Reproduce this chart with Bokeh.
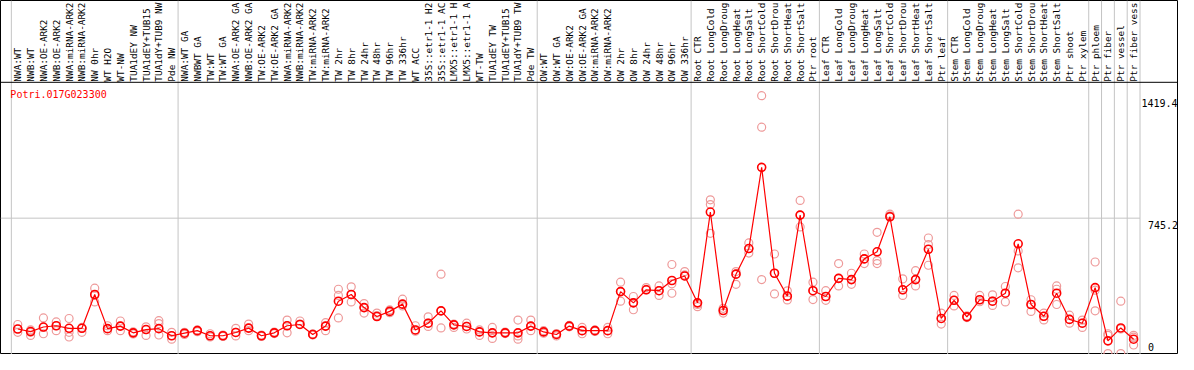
import numpy as np
from bokeh.plotting import figure
from bokeh.models import Range1d, Span
from bokeh.core.properties import value
from bokeh.embed import file_html
from bokeh.resources import INLINE

# ---------------- data ----------------
labels = [
    "NWA:WT", "NWB:WT", "NWA:OE-ARK2", "NWB:OE-ARK2", "NWA:miRNA-ARK2", "NWB:miRNA-ARK2",
    "NW 0hr", "WT H2O", "WT-NW", "TUA1dEY NW", "TUA1dEY+TUB15 NW", "TUA1dY+TUB9 NW", "Pde NW",
    "NWA:WT GA", "NWBWT GA", "TW:WT", "TW:WT GA", "NWA:OE-ARK2 GA", "NWB:OE-ARK2 GA",
    "TW:OE-ARK2", "TW:OE-ARK2 GA", "NWA:miRNA-ARK2", "NWB:miRNA-ARK2", "TW:miRNA-ARK2",
    "TW:miRNA-ARK2", "TW 2hr", "TW 8hr", "TW 24hr", "TW 48hr", "TW 96hr", "TW 336hr", "WT ACC",
    "35S::etr1-1 H2O", "35S::etr1-1 ACC", "LMX5::etr1-1 H2O", "LMX5::etr1-1 ACC", "WT-TW",
    "TUA1dEY TW", "TUA1dEY+TUB15 TW", "TUA1dY+TUB9 TW", "Pde TW",
    "OW:WT", "OW:WT GA", "OW:OE-ARK2", "OW:OE-ARK2 GA", "OW:miRNA-ARK2", "OW:miRNA-ARK2",
    "OW 2hr", "OW 8hr", "OW 24hr", "OW 48hr", "OW 96hr", "OW 336hr",
    "Root CTR", "Root LongCold", "Root LongDrought", "Root LongHeat", "Root LongSalt",
    "Root ShortCold", "Root ShortDrought", "Root ShortHeat", "Root ShortSalt", "Ptr root",
    "Leaf CTR", "Leaf LongCold", "Leaf LongDrought", "Leaf LongHeat", "Leaf LongSalt",
    "Leaf ShortCold", "Leaf ShortDrought", "Leaf ShortHeat", "Leaf ShortSalt", "Ptr leaf",
    "Stem CTR", "Stem LongCold", "Stem LongDrought", "Stem LongHeat", "Stem LongSalt",
    "Stem ShortCold", "Stem ShortDrought", "Stem ShortHeat", "Stem ShortSalt", "Ptr shoot",
    "Ptr xylem", "Ptr phloem", "Ptr fiber", "Ptr vessel", "Ptr fiber vessel",
]

means = [
    135, 121, 146, 153, 139, 139, 325, 137, 151, 114, 132, 137, 98,
    112, 126, 98, 98, 116, 140, 98, 114, 153, 160, 105, 151, 288, 325, 253, 204, 232,
    272, 130, 167, 235, 158, 149, 119, 114, 114, 114, 151,
    119, 105, 151, 126, 126, 126, 341, 279, 351, 346, 402, 427,
    279, 779, 237, 437, 578, 1025, 442, 316, 762, 346,
    314, 414, 407, 521, 560, 753, 351, 407, 574, 193,
    293, 202, 296, 288, 332, 604, 270, 205, 332, 188, 167,
    363, 70, 141, 79,
]

rep_a = [
    160, 130, 196, 174, 193, 144, 360, 153, 179, 120, 147, 181, 117,
    117, 130, 109, 102, 139, 162, 102, 118, 184, 179, 108, 170, 354, 367, 275, 223, 240,
    299, 153, 202, 437, 162, 167, 130, 144, 118, 184, 184,
    126, 110, 155, 144, 130, 144, 393, 314, 363, 372, 490, 451,
    279, 846, 249, 451, 609, 1419.4, 548, 345, 843, 393,
    346, 495, 442, 548, 667, 767, 411, 456, 636, 223,
    320, 207, 320, 323, 369, 767, 296, 223, 372, 211, 184,
    504, 109, 288, 100,
]

rep_b = [
    135, 117, 144, 153, 117, 139, 320, 137, 151, 114, 132, 165, 98,
    112, 126, 98, 98, 116, 140, 98, 114, 153, 162, 105, 151, 320, 324, 253, 209, 232,
    272, 130, 167, 235, 158, 149, 119, 114, 114, 97, 151,
    119, 105, 151, 126, 126, 126, 341, 279, 353, 346, 384, 433,
    270, 820, 237, 437, 578, 1246, 442, 316, 762, 346,
    314, 414, 407, 521, 512, 758, 351, 407, 600, 193,
    293, 202, 296, 288, 332, 565, 270, 205, 354, 188, 167,
    349, 100, 135, 90,
]

rep_c = [
    117, 100, 109, 126, 91, 117, 284, 126, 126, 108, 100, 102, 79,
    105, 120, 91, 94, 97, 126, 94, 110, 114, 160, 102, 126, 196, 284, 223, 204, 225,
    262, 123, 149, 141, 144, 135, 100, 83, 110, 79, 126,
    112, 97, 147, 109, 122, 109, 288, 241, 351, 320, 332, 427,
    258, 662, 223, 381, 553, 407, 328, 295, 697, 297,
    293, 372, 381, 495, 495, 753, 320, 372, 486, 162,
    262, 198, 285, 265, 284, 472, 232, 185, 270, 167, 144,
    235, 0, 0, 47,
]

group_breaks = [0, 13, 41, 53, 63, 73, 84, 85, 86, 87, 88]
gene_id = "Potri.017G023300"
max_value = max(rep_a + rep_b + rep_c)          # 1419.4
scale_top = round(max_value * 1.05, 1)           # 1490.4
tick_values = [max_value, round(scale_top / 2, 1), 0]
tick_texts = ["%.1f" % max_value, "%.1f" % (scale_top / 2), "0"]
LABEL_CHARS = 14  # the column headers show at most this many characters

# ---------------- layout (reference pixel geometry) ----------------
W, H = 1178, 354
REF_W, REF_H = 1194, 370
X0, COL = 11.0, 13.0           # left edge of first column, column width (ref px)
Y_ZERO, Y_SPAN = 369.0, 283.0  # ref px of value 0 and height of value scale


def vy(px):
    return (Y_ZERO - px) * scale_top / Y_SPAN


def vx(px):
    return (px - X0) / COL


p = figure(width=W, height=H, output_backend="svg", toolbar_location=None,
           x_range=Range1d(vx(0), vx(REF_W)), y_range=Range1d(vy(REF_H), vy(0)),
           min_border=0)
p.axis.visible = False
p.xgrid.visible = False
p.ygrid.visible = False
p.outline_line_color = "black"
p.outline_line_width = 1
p.background_fill_color = "white"
p.border_fill_color = "white"

mono = value("DejaVu Sans Mono")

# vertical group separators
p.segment(x0=group_breaks, x1=group_breaks, y0=[vy(REF_H)] * len(group_breaks),
          y1=[vy(0)] * len(group_breaks), line_color="#c4c4c4", line_width=1)

# horizontal mid grid line
p.segment(x0=[vx(0)], x1=[vx(1155)], y0=[tick_values[1]], y1=[tick_values[1]],
          line_color="#c4c4c4", line_width=1)

# separator between labels and plot
p.add_layout(Span(location=vy(85.5), dimension="width", line_color="black", line_width=1))

n = len(labels)
centers = np.arange(n) + 0.5
shown_labels = [s[:LABEL_CHARS].rstrip() for s in labels]

# column labels (vertical)
p.text(x=centers, y=[vy(84.8)] * n, text=shown_labels, angle=np.pi / 2,
       text_align="left", text_baseline="middle", text_font=mono,
       text_font_size="9.4px", text_color="black")

# replicates
rx = np.concatenate([centers, centers, centers])
ry = rep_a + rep_b + rep_c
p.scatter(rx, ry, marker="circle", size=8, fill_color=None,
          line_color="#EE9A9A", line_width=1.2)

# mean line + points
p.line(centers, means, line_color="red", line_width=1.2)
p.scatter(centers, means, marker="circle", size=8, fill_color=None,
          line_color="red", line_width=1.6)

# gene id
p.text(x=[vx(10)], y=[vy(92)], text=[gene_id], text_align="left", text_baseline="top",
       text_font=mono, text_font_size="10px", text_color="red")

# value labels at right
p.text(x=[vx(1156.5)], y=[tick_values[0]], text=[tick_texts[0]], text_align="left",
       text_baseline="top", y_offset=3, text_font=mono, text_font_size="10px",
       text_color="black")
p.text(x=[vx(1163)], y=[tick_values[1]], text=[tick_texts[1]], text_align="left",
       text_baseline="top", y_offset=3, text_font=mono, text_font_size="10px",
       text_color="black")
p.text(x=[vx(1163)], y=[0], text=[tick_texts[2]], text_align="left",
       text_baseline="bottom", y_offset=-3, text_font=mono, text_font_size="10px",
       text_color="black")

open("out.html", "w").write(file_html(p, INLINE))
